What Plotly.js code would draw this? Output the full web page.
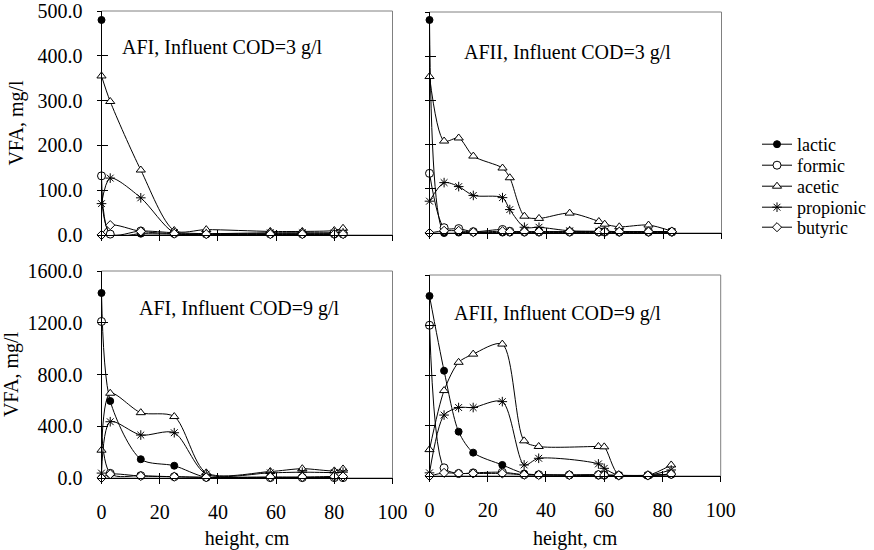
<!DOCTYPE html>
<html><head><meta charset="utf-8">
<script src="https://cdn.plot.ly/plotly-3.0.1.min.js"></script>
<style>html,body{margin:0;padding:0;background:#fff}#chart{width:874px;height:550px}</style>
</head><body><div id="chart"></div>
<script>
// heights (cm)
const heightAFI = [0, 3, 13.5, 25, 36, 58, 69, 80, 83];
const heightAFII3 = [0, 5, 10, 15, 25, 27.5, 32.5, 37.5, 48, 58, 60, 65, 75, 83];
const heightAFII9 = [0, 5, 10, 15, 25, 32.5, 37.5, 48, 58, 60, 65, 75, 83];

// AFI, influent COD = 3 g/l
const lactic_AFI3 = [480, 2, 3, 2, 1, 1, 1, 1, 1];
const formic_AFI3 = [132, 2, 9, 5, 3, 3, 3, 3, 3];
const acetic_AFI3 = [355, 298, 145, 10, 12, 8, 8, 10, 15];
const propionic_AFI3 = [70, 127, 83, 5, 3, 5, 5, 5, 5];
const butyric_AFI3 = [0, 22, 8, 3, 2, 2, 2, 2, 2];

// AFII, influent COD = 3 g/l
const lactic_AFII3 = [482, 0, 1, 1, 1, 1, 1, 1, 1, 1, 1, 1, 1, 1];
const formic_AFII3 = [135, 12, 10, 3, 8, 4, 3, 3, 3, 3, 3, 3, 3, 3];
const acetic_AFII3 = [354, 208, 215, 174, 147, 125, 38, 33, 45, 26, 20, 14, 18, 4];
const propionic_AFII3 = [72, 114, 105, 85, 80, 53, 13, 13, 5, 4, 4, 3, 3, 3];
const butyric_AFII3 = [0, 5, 5, 2, 4, 3, 3, 3, 3, 3, 3, 3, 3, 3];

// AFI, influent COD = 9 g/l
const lactic_AFI9 = [1430, 595, 145, 95, 5, 3, 3, 3, 3];
const formic_AFI9 = [1210, 36, 18, 10, 5, 3, 3, 3, 3];
const acetic_AFI9 = [215, 655, 505, 475, 40, 50, 72, 55, 70];
const propionic_AFI9 = [38, 435, 332, 350, 30, 40, 45, 42, 45];
const butyric_AFI9 = [0, 30, 15, 10, 5, 8, 8, 12, 12];

// AFII, influent COD = 9 g/l
const lactic_AFII9 = [1433, 838, 353, 186, 88, 20, 10, 5, 3, 3, 3, 3, 10];
const formic_AFII9 = [1200, 65, 20, 25, 30, 10, 10, 8, 10, 8, 5, 5, 15];
const acetic_AFII9 = [210, 680, 905, 970, 1050, 280, 235, null, 235, 232, 8, 5, 88];
const propionic_AFII9 = [25, 485, 545, 545, 592, 88, 141, null, 96, 61, 5, 5, 48];
const butyric_AFII9 = [0, 25, 20, 20, 20, 10, 8, 8, 10, 8, 5, 5, 15];

const seriesNames = ['lactic', 'formic', 'acetic', 'propionic', 'butyric'];
const panelTitles = ['AFI, Influent COD=3 g/l', 'AFII, Influent COD=3 g/l', 'AFI, Influent COD=9 g/l', 'AFII, Influent COD=9 g/l'];
const yTickVals3 = [0, 100, 200, 300, 400, 500];
const yTickVals9 = [0, 400, 800, 1200, 1600];
const xTickVals = [0, 20, 40, 60, 80, 100];

const markerStyles = [
  {symbol: 'circle', color: '#000', size: 7, line: {color: '#000', width: 1}},
  {symbol: 'circle', color: '#fff', size: 8, line: {color: '#000', width: 1}},
  {symbol: 'triangle-up', color: '#fff', size: 8, line: {color: '#000', width: 1}},
  {symbol: 'asterisk-open', color: '#000', size: 8, line: {color: '#000', width: 1}},
  {symbol: 'diamond', color: '#fff', size: 7, line: {color: '#000', width: 1}}
];

const panels = [
  {x: heightAFI, ys: [lactic_AFI3, formic_AFI3, acetic_AFI3, propionic_AFI3, butyric_AFI3]},
  {x: heightAFII3, ys: [lactic_AFII3, formic_AFII3, acetic_AFII3, propionic_AFII3, butyric_AFII3]},
  {x: heightAFI, ys: [lactic_AFI9, formic_AFI9, acetic_AFI9, propionic_AFI9, butyric_AFI9]},
  {x: heightAFII9, ys: [lactic_AFII9, formic_AFII9, acetic_AFII9, propionic_AFII9, butyric_AFII9]}
];

const W = 874, H = 550;
const boxes = [
  {l: 101.5, r: 392.5, t: 11, b: 235},
  {l: 429.5, r: 721.5, t: 12, b: 233},
  {l: 101.5, r: 392.5, t: 271, b: 478},
  {l: 429.5, r: 720.7, t: 275, b: 476}
];
const yRanges = [[0, 500], [0, 500], [0, 1600], [0, 1600]];
const yTicks = [yTickVals3, yTickVals3, yTickVals9, yTickVals9];

const serif = 'Liberation Serif';
const font = {family: serif, size: 20, color: '#000'};
const legendIds = ['legend', 'legend2', 'legend3', 'legend4', 'legend5'];
const traces = [];
panels.forEach((p, i) => {
  const xa = 'x' + (i === 0 ? '' : i + 1), ya = 'y' + (i === 0 ? '' : i + 1);
  p.ys.forEach((y, k) => {
    traces.push({
      type: 'scatter', mode: 'lines+markers', x: p.x, y: y, name: seriesNames[k],
      xaxis: xa, yaxis: ya, showlegend: i === 0, legend: legendIds[k],
      connectgaps: true, cliponaxis: false,
      line: {color: '#000', width: 1, shape: 'spline', smoothing: 0.8},
      marker: markerStyles[k]
    });
  });
});

const layout = {
  width: W, height: H, margin: {l: 0, r: 0, t: 0, b: 0, autoexpand: false},
  paper_bgcolor: '#fff', plot_bgcolor: 'rgba(0,0,0,0)', font: font,
  showlegend: true, annotations: [], shapes: []
};
const legendCenters = [145, 166, 187, 208, 228];
legendIds.forEach((id, k) => {
  layout[id] = {x: 757 / W, xanchor: 'left', y: 1 - (legendCenters[k] - 19) / H, yanchor: 'top',
    font: {family: serif, size: 18, color: '#000'}, bgcolor: 'rgba(0,0,0,0)', borderwidth: 0};
});
const annPos = [[120, 47], [462, 53], [137, 308], [452, 313]];
boxes.forEach((b, i) => {
  const n = i + 1, sfx = i === 0 ? '' : String(n);
  const xd = [b.l / W, b.r / W], yd = [1 - b.b / H, 1 - b.t / H];
  const bottom = i >= 2;
  layout['xaxis' + sfx] = {
    domain: xd, range: [0, 100], anchor: 'y' + sfx, showline: true, linecolor: '#000', linewidth: 1,
    ticks: 'outside', ticklen: 5, tickcolor: '#000', tickvals: xTickVals, showgrid: false, zeroline: false,
    showticklabels: bottom, tickfont: font, ticklabelstandoff: 11,
    title: bottom ? {text: 'height, cm', font: font, standoff: 10} : {text: ''}
  };
  layout['yaxis' + sfx] = {
    domain: yd, range: yRanges[i], anchor: 'x' + sfx, showline: true, linecolor: '#000', linewidth: 1,
    ticks: 'outside', ticklen: 4, tickcolor: '#000', tickvals: yTicks[i], tickformat: '.1f',
    showgrid: false, zeroline: false, showticklabels: i % 2 === 0, tickfont: font, ticklabelstandoff: 10,
    title: i % 2 === 0 ? {text: 'VFA, mg/l', font: font, standoff: 8} : {text: ''}
  };
  // inner half of cross ticks
  layout['xaxis' + (n + 4)] = {
    domain: xd, range: [0, 100], anchor: 'y' + sfx, overlaying: 'x' + sfx, side: 'bottom',
    ticks: 'inside', ticklen: 5, tickcolor: '#000', tickvals: xTickVals, showticklabels: false,
    showline: false, showgrid: false, zeroline: false
  };
  layout['yaxis' + (n + 4)] = {
    domain: yd, range: yRanges[i], anchor: 'x' + sfx, overlaying: 'y' + sfx, side: 'left',
    ticks: 'inside', ticklen: 6, tickcolor: '#000', tickvals: yTicks[i], showticklabels: false,
    showline: false, showgrid: false, zeroline: false
  };
  layout.shapes.push({type: 'rect', xref: 'x' + sfx + ' domain', yref: 'y' + sfx + ' domain', x0: 0, x1: 1, y0: 0, y1: 1,
    line: {color: '#808080', width: 1}, layer: 'below'});
  layout.annotations.push({text: panelTitles[i], xref: 'paper', yref: 'paper', x: annPos[i][0] / W, y: 1 - annPos[i][1] / H,
    xanchor: 'left', yanchor: 'middle', showarrow: false, font: font});
});
// empty traces to register the overlay tick axes
for (let n = 1; n <= 4; n++) {
  traces.push({type: 'scatter', x: [], y: [], xaxis: 'x' + (n + 4), yaxis: 'y' + (n + 4), showlegend: false, hoverinfo: 'skip'});
}
Plotly.newPlot('chart', traces, layout, {displayModeBar: false, staticPlot: true});
</script></body></html>
